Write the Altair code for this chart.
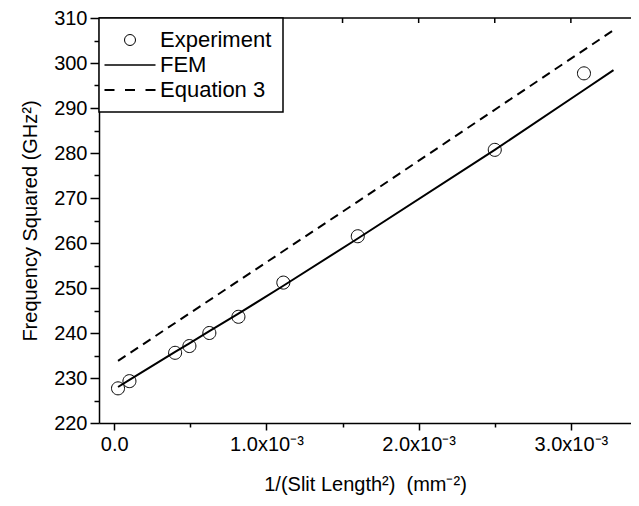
import altair as alt
import pandas as pd

# ---- data ----
series = ["Experiment", "FEM", "Equation 3"]

exp_x = [0.000025, 0.0001, 0.0004, 0.000494, 0.000625, 0.000816, 0.001111, 0.0016, 0.0025, 0.003086]
exp_y = [227.7, 229.3, 235.6, 237.1, 240.0, 243.6, 251.2, 261.5, 280.7, 297.7]

fem_x = [0.000025, 0.0001, 0.0004, 0.000494, 0.000625, 0.000816, 0.001111, 0.0016, 0.0025, 0.003086, 0.00328]
fem_y = [228.0, 229.6, 235.8, 237.7, 240.4, 244.3, 250.5, 261.0, 280.7, 294.0, 298.4]

eq3_x = [0.000025, 0.0016, 0.00328]
eq3_y = [233.8, 269.2, 307.3]

x_major = [0.0, 0.001, 0.002, 0.003]
x_major_labels = ["0.0", "1.0x10\u207b\u00b3", "2.0x10\u207b\u00b3", "3.0x10\u207b\u00b3"]
x_minor = [0.0005, 0.0015, 0.0025]
y_major = [220, 230, 240, 250, 260, 270, 280, 290, 300, 310]
y_minor = [225, 235, 245, 255, 265, 275, 285, 295, 305]

x_domain = [-0.0001, 0.003395]
y_domain = [220, 310]

x_title = "1/(Slit Length\u00b2)\u00a0\u00a0(mm\u207b\u00b2)"
y_title = "Frequency Squared (GHz\u00b2)"

W, H = 532, 405
FONT = "Liberation Sans"

# ---- tables ----
exp_df = pd.DataFrame({"x": exp_x, "y": exp_y, "series": "Experiment"})
fem_df = pd.DataFrame({"x": fem_x, "y": fem_y, "series": "FEM"})
eq3_df = pd.DataFrame({"x": eq3_x, "y": eq3_y, "series": "Equation 3"})
top_ticks_df = pd.DataFrame({"x": sorted(x_major + x_minor)})
one_df = pd.DataFrame({"a": [0]})

# label / tick-size expressions
def is_in(vals):
    return " || ".join(f"abs(datum.value - ({v})) < 1e-9" for v in vals)

x_label_expr = ""
for v, lab in zip(x_major, x_major_labels):
    x_label_expr += f"abs(datum.value - ({v})) < 1e-9 ? '{lab}' : "
x_label_expr += "''"

x_scale = alt.Scale(domain=x_domain, nice=False, zero=False)
y_scale = alt.Scale(domain=y_domain, nice=False, zero=False)

x_axis = alt.Axis(
    title=x_title,
    values=sorted(x_major + x_minor),
    labelExpr=x_label_expr,
    tickSize={"condition": {"test": is_in(x_major), "value": 7}, "value": 4},
    labelOverlap=False,
    labelFlush=False,
    labelPadding=4,
    titlePadding=20,
    grid=False,
)
y_axis = alt.Axis(
    title=y_title,
    values=sorted(y_major + y_minor),
    labelExpr="datum.value % 10 == 0 ? datum.value : ''",
    tickSize={"condition": {"test": "datum.value % 10 == 0", "value": 9}, "value": 5},
    labelOverlap=False,
    labelFlush=False,
    labelPadding=3,
    titlePadding=13,
    grid=False,
)

circle_path = "M-1.1,0A1.1,1.1 0 1,0 1.1,0A1.1,1.1 0 1,0 -1.1,0Z"
line_path = "M-5.1,0H5.1"
dash_path = "M-5.1,0H-3.1M-1,0H1M3.1,0H5.1"

points = alt.Chart(exp_df).mark_point(filled=False, color="black", size=140, opacity=1).encode(
    x=alt.X("x:Q", scale=x_scale, axis=x_axis),
    y=alt.Y("y:Q", scale=y_scale, axis=y_axis),
    shape=alt.Shape(
        "series:N",
        scale=alt.Scale(domain=series, range=[circle_path, line_path, dash_path]),
        legend=alt.Legend(title=None),
    ),
    strokeWidth=alt.StrokeWidth(
        "series:N",
        scale=alt.Scale(domain=series, range=[1.0, 2.0, 2.0]),
        legend=alt.Legend(title=None),
    ),
)

fem = alt.Chart(fem_df).mark_line(color="black", strokeWidth=2).encode(
    x=alt.X("x:Q", scale=x_scale, axis=x_axis),
    y=alt.Y("y:Q", scale=y_scale, axis=y_axis),
)

eq3 = alt.Chart(eq3_df).mark_line(color="black", strokeWidth=2, strokeDash=[9, 6]).encode(
    x=alt.X("x:Q", scale=x_scale, axis=x_axis),
    y=alt.Y("y:Q", scale=y_scale, axis=y_axis),
)

top_border = alt.Chart(one_df).mark_rule(color="black", strokeWidth=1.5).encode(
    x=alt.value(0), x2=alt.value(W), y=alt.value(0)
)

top_ticks = alt.Chart(top_ticks_df).mark_rule(color="black", strokeWidth=1.5).encode(
    x=alt.X("x:Q", scale=x_scale, axis=x_axis),
    y=alt.value(0),
    y2=alt.value(5),
)

chart = (
    alt.layer(eq3, fem, top_ticks, top_border, points)
    .properties(
        width=W,
        height=H,
        autosize=alt.AutoSizeParams(type="none"),
        padding={"left": 91, "top": 10, "right": 0, "bottom": 80},
    )
    .configure_view(stroke=None)
    .configure_axis(
        labelFont=FONT,
        titleFont=FONT,
        labelFontSize=20,
        titleFontSize=20,
        titleFontWeight="normal",
        labelColor="black",
        titleColor="black",
        domainColor="black",
        tickColor="black",
        domainWidth=1.5,
        tickWidth=1.5,
    )
    .configure_legend(
        orient="none",
        legendX=0,
        legendY=0,
        strokeColor="black",
        fillColor="white",
        strokeWidth=1.5,
        padding=11,
        rowPadding=3,
        labelFont=FONT,
        labelFontSize=22,
        labelColor="black",
        symbolSize=100,
        symbolOffset=9,
        labelOffset=19,
        symbolStrokeColor="black",
    )
)

chart.save("out.html", embed_options={"renderer": "svg", "actions": False})
